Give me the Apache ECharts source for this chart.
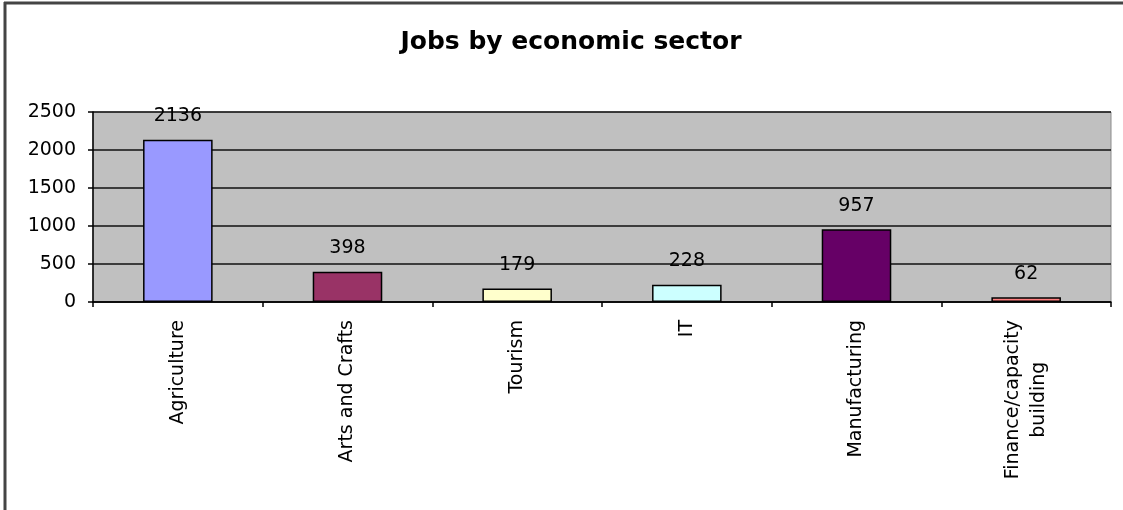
<!DOCTYPE html>
<html>
<head>
<meta charset="utf-8">
<script src="https://cdn.jsdelivr.net/npm/echarts@6/dist/echarts.min.js"></script>
<style>
  html, body { margin: 0; padding: 0; background: #fff; }
  #chart { width: 1123px; height: 510px; }
</style>
</head>
<body>
<div id="chart"></div>
<script>
// Jobs created per economic sector
const categories = ['Agriculture', 'Arts and Crafts', 'Tourism', 'IT', 'Manufacturing', 'Finance/capacity\nbuilding'];
const jobs = [2136, 398, 179, 228, 957, 62];
const yTicks = { min: 0, max: 2500, step: 500 };

// Fill colour of each sector's bar
const barColors = ['#9999FF', '#993366', '#FFFFCC', '#CCFFFF', '#660066', '#FF8080'];

const FONT = 'DejaVu Sans';

const chart = echarts.init(document.getElementById('chart'), null, { renderer: 'canvas' });

chart.setOption({
  backgroundColor: '#ffffff',
  animation: false,
  title: {
    text: 'Jobs by economic sector',
    left: 566,
    textAlign: 'center',
    top: 25,
    textStyle: { fontFamily: FONT, fontWeight: 'bold', fontSize: 25, color: '#000' }
  },
  grid: {
    left: 93, right: 12, top: 112, bottom: 208,
    show: true,
    backgroundColor: '#C0C0C0',
    borderColor: '#8c8c8c',
    borderWidth: 1
  },
  xAxis: {
    type: 'category',
    data: categories,
    boundaryGap: true,
    axisLine: { show: true, lineStyle: { color: '#000', width: 1.5 } },
    axisTick: { show: true, alignWithLabel: false, length: 5, lineStyle: { color: '#000', width: 1.5 } },
    axisLabel: {
      rotate: 90,
      interval: 0,
      margin: 18,
      fontFamily: FONT,
      fontSize: 19,
      color: '#000',
      formatter: v => v.split('\n').map(s => '{c|' + s + '}').join('\n'),
      rich: { c: { fontFamily: FONT, fontSize: 19, color: '#000', align: 'center', lineHeight: 26 } }
    }
  },
  yAxis: {
    type: 'value',
    min: yTicks.min,
    max: yTicks.max,
    interval: yTicks.step,
    axisLine: { show: true, lineStyle: { color: '#000', width: 1.5 } },
    axisTick: { show: true, length: 5, lineStyle: { color: '#000', width: 1.5 } },
    axisLabel: { margin: 17, fontFamily: FONT, fontSize: 19, color: '#000', formatter: v => String(v) },
    splitLine: { show: true, lineStyle: { color: '#111', width: 1.5 } }
  },
  series: [{
    type: 'bar',
    barWidth: '41%',
    data: jobs.map((v, i) => ({
      value: v,
      itemStyle: { color: barColors[i], borderColor: '#000', borderWidth: 1.5 }
    })),
    label: {
      show: true,
      position: 'top',
      distance: 14,
      fontFamily: FONT,
      fontSize: 19,
      color: '#000'
    }
  }],
  graphic: [
    { type: 'line', shape: { x1: 4, y1: 3, x2: 1123, y2: 3 }, style: { stroke: '#444', lineWidth: 3 } },
    { type: 'line', shape: { x1: 5, y1: 2, x2: 5, y2: 510 }, style: { stroke: '#444', lineWidth: 3 } }
  ]
});
</script>
</body>
</html>
